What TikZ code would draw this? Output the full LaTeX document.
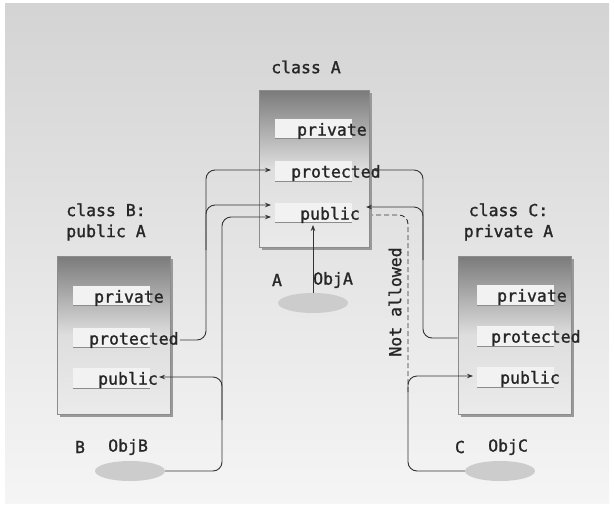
\documentclass[tikz,border=0pt]{standalone}
\usepackage{fontspec}
\newfontfamily\codefont[FakeBold=1.3]{DejaVu Sans Mono}
\usetikzlibrary{arrows.meta,shadows,shapes.geometric}
\begin{document}
\begin{tikzpicture}[x=1pt,y=-1pt,
  every node/.style={font=\codefont\fontsize{16.5}{21}\selectfont, text=black!85, inner sep=0pt},
  classbox/.style={draw=black!45, line width=0.8pt, top color=black!52, bottom color=black!8, middle color=black!13,
    general shadow={shadow xshift=2.5pt, shadow yshift=-2.5pt, fill=black!40}},
  stripbox/.style={fill=black!5, draw=none, minimum width=77pt, minimum height=20pt},
  stripline/.style={draw=black!45, line width=0.9pt},
  conn/.style={draw=black!80, line width=0.9pt, rounded corners=9pt},
  tip/.style={-{Stealth[length=6pt,width=4.5pt]}},
  objell/.style={ellipse, fill=black!20, minimum width=70pt, minimum height=20pt},
  member/.style={anchor=west},
]
\useasboundingbox (0,0) rectangle (614,509);
\fill[white] (0,0) rectangle (614,509);
\shade[top color=black!17, bottom color=black!4] (5,3) rectangle (609,503);

% class boxes
\node[classbox, minimum width=110pt, minimum height=157pt] (boxA) at (314,168.5) {};
\node[classbox, minimum width=113pt, minimum height=158pt] (boxB) at (113.5,335) {};
\node[classbox, minimum width=113pt, minimum height=158pt] (boxC) at (514.5,335) {};

% strips
\foreach \n/\x/\y in {sa1/275/128.5, sa2/275/171, sa3/275/212.5,
                      sb1/73/295.5, sb2/73/337.5, sb3/73/378,
                      sc1/477/295, sc2/477/336, sc3/477/377}{
  \node[stripbox, anchor=west] (\n) at (\x,\y) {};
  \draw[stripline] (\n.south west) -- (\n.south east);
}

% member labels
\node[member] (apriv) at (297,131) {private};
\node[member] (aprot) at (291,173) {protected};
\node[member] (apub)  at (300,215) {public};
\node[member] (bpriv) at (94,298) {private};
\node[member] (bprot) at (89,340) {protected};
\node[member] (bpub)  at (98,380) {public};
\node[member] (cpriv) at (497,297) {private};
\node[member] (cprot) at (491,338) {protected};
\node[member] (cpub)  at (500,379) {public};

% titles
\node (tA) at (306,67) {class A};
\node[align=center] (tB) at (106,222) {class B:\\public A};
\node[align=center] (tC) at (508.5,222) {class C:\\private A};

% objects
\node[objell] (objA) at (313,303) {};
\node[objell] (objB) at (130,471) {};
\node[objell] (objC) at (500,471) {};
\node (typA) at (277,280) {A};
\node[anchor=west] (nameA) at (313,280) {ObjA};
\node (typB) at (80,447) {B};
\node[anchor=west] (nameB) at (108,447) {ObjB};
\node (typC) at (460,447) {C};
\node[anchor=west] (nameC) at (488,447) {ObjC};

% ports
\coordinate (aprotIn) at (271,170);
\coordinate (apubIn1) at (271,205);
\coordinate (apubIn2) at (271,217);
\coordinate (aprotInR) at (373,170);
\coordinate (apubInR) at (366,207);
\coordinate (apubDash) at (372,215);
\coordinate (apubBot) at (313,225);
\coordinate (cpubIn) at (473,376);
\coordinate (bpubIn) at (159,377);

% connectors, class B side
\draw[conn,tip] ([xshift=1pt]bprot.east) -| (206,170) -- (aprotIn);
\draw[conn,tip] (206,250) |- (apubIn1);
\draw[conn,tip] (objB.east) -| (222,217) -- (apubIn2);
\draw[conn,tip] (222,420) |- (bpubIn);

% ObjA
\draw[conn,tip] (objA.north) -- (apubBot);

% class C side
\draw[conn,tip] (boxC.west |- cprot) -| (423,170) -- (aprotInR);
\draw[conn,tip] (423,260) |- (apubInR);
\draw[conn,tip] (objC.west) -| (408,376) -- (cpubIn);
\draw[conn,dash pattern=on 5pt off 3pt] (408,392) |- (apubDash);
\node[rotate=90] (na) at (395,302) {Not allowed};
\end{tikzpicture}
\end{document}
